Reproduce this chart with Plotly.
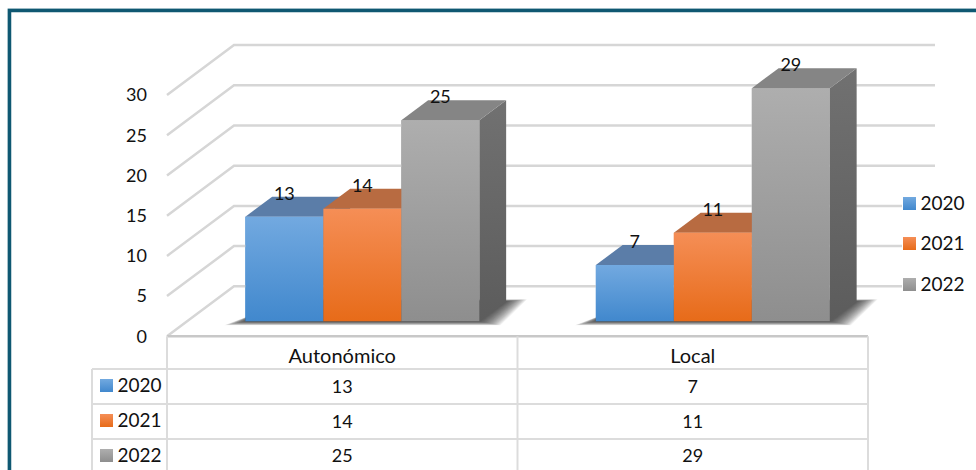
import plotly.graph_objects as go

categories = ["Autonómico", "Local"]
years = ["2020", "2021", "2022"]
values_2020 = [13, 7]
values_2021 = [14, 11]
values_2022 = [25, 29]
series_values = [values_2020, values_2021, values_2022]
y_ticks = [0, 5, 10, 15, 20, 25, 30]

W, H = 976, 470
X0, CAT = 167.0, 350.5      # pixel of category 0, pixels per category
Y0, UNIT = 336.3, 8.04      # pixel of value 0, pixels per value unit
def ux(px): return (px - X0) / CAT
def uy(px): return (Y0 - px) / UNIT

DX, DY = 67 / CAT, 50 / UNIT      # depth of the floor in data units
F0, F1 = 0.30, 0.70               # front and back of the bars, as depth
BAR_W = 78 / CAT

FRONT = [("#72a9e0", "#4188cd"), ("#f58e56", "#e76b19"), ("#aeaeae", "#8e8e8e")]
TOP = ["#5b7da8", "#b86b41", "#858585"]
SIDE = [("#4f7096", "#3f5f85"), ("#a05a30", "#8a4d28"), ("#717171", "#5c5c5c")]
MID = ["#5a98d6", "#ee7c38", "#9e9e9e"]
GRID = "#d6d6d6"
TABLE = "#dcdcdc"
BORDER = "#0f5872"
FONT = "Lato"
INK = "#111111"

fig = go.Figure()

def poly(xs, ys, color=None, grad=None):
    kw = dict(fillcolor=color) if grad is None else dict(
        fillgradient=dict(type="vertical", colorscale=[[0, grad[1]], [1, grad[0]]]))
    fig.add_trace(go.Scatter(x=list(xs) + [xs[0]], y=list(ys) + [ys[0]], mode="lines", fill="toself",
                             line=dict(width=0), hoverinfo="skip", showlegend=False, **kw))

def line(xs, ys, color=GRID, width=2.5):
    fig.add_trace(go.Scatter(x=xs, y=ys, mode="lines", line=dict(color=color, width=width),
                             hoverinfo="skip", showlegend=False))

def label(x, y, text, size=18, pos="middle center"):
    fig.add_trace(go.Scatter(x=x, y=y, mode="text", text=text, textposition=pos,
                             textfont=dict(family=FONT, size=size, color=INK),
                             hoverinfo="skip", showlegend=False))

# Gridlines: oblique on the side wall, horizontal on the back wall
for v in y_ticks:
    line([0, DX, DX + 2], [v, v + DY, v + DY])
line([0, 2], [0, 0], "#c8c8c8", 2.5)

# Bars as library bars, standing on the floor at depth F0
x_shift = F0 * DX
y_shift = F0 * DY
for s, vals in enumerate(series_values):
    fig.add_trace(go.Bar(x=[i + 0.5 + x_shift + (s - 1) * BAR_W for i in range(len(vals))], y=vals,
                         base=y_shift, width=BAR_W, marker=dict(color=MID[s], line=dict(width=0)),
                         name=years[s], showlegend=False, hoverinfo="skip"))

# Floor shadow, soft edges from many stacked translucent polygons
d = (F1 - F0)
LAYERS = 22
for i in range(len(categories)):
    xl = i + 0.5 + x_shift - 1.5 * BAR_W
    xr = i + 0.5 + x_shift + 1.5 * BAR_W
    for k in range(LAYERS):
        g = 1 - k / LAYERS
        gx = 21 * g / CAT
        gy = 4 * g / UNIT
        up = 2 * g / UNIT
        poly([xl - gx, xr + gx, xr + d * DX + gx, xl + d * DX + gx],
             [y_shift - gy, y_shift - gy, y_shift + d * DY + up, y_shift + d * DY + up],
             color="rgba(30,30,30,0.055)")

# 3D faces
for i in range(len(categories)):
    for s, vals in enumerate(series_values):
        xl = i + 0.5 + x_shift + (s - 1.5) * BAR_W
        xr = xl + BAR_W
        b = y_shift
        t = y_shift + vals[i]
        ddx, ddy = d * DX, d * DY
        poly([xr, xr + ddx, xr + ddx, xr], [b, b + ddy, t + ddy, t], grad=SIDE[s])
        poly([xl, xr, xr + ddx, xl + ddx], [t, t, t + ddy, t + ddy], color=TOP[s])
        poly([xl, xr, xr, xl], [b, b, t, t], grad=FRONT[s])
        label([(xl + xr) / 2], [t + 21.5 / UNIT], [str(vals[i])])

# Data table
left = ux(92)
rows_y = [uy(369), uy(404), uy(439)]
for yy in rows_y:
    line([left, 2], [yy, yy], TABLE, 2)
bottom = uy(480)
for xx, top in [(left, rows_y[0]), (0, 0), (1, 0), (2, 0)]:
    line([xx, xx], [top, bottom], TABLE, 2)
row_text_y = [uy(388), uy(423), uy(457.5)]
for s, vals in enumerate(series_values):
    label([0.5, 1.5], [row_text_y[s]] * 2, [str(v) for v in vals])

# Legend background hides the wall gridlines, as in the source
poly([ux(902), ux(976), ux(976), ux(902)], [uy(190), uy(190), uy(298), uy(298)], color="#ffffff")
legend_y = [uy(203.5), uy(243.5), uy(284.5)]
legend_text_y = [uy(205), uy(245), uy(286)]
table_key_y = [uy(385.5), uy(420.5), uy(455.5)]
table_text_y = [uy(387), uy(422), uy(457)]
for s, name in enumerate(years):
    fig.add_trace(go.Scatter(x=[ux(106.5), ux(909.5)], y=[table_key_y[s], legend_y[s]], mode="markers",
                             name=name, showlegend=False, hoverinfo="skip",
                             marker=dict(symbol="square", size=13, color=FRONT[s][0], line=dict(width=0),
                                         gradient=dict(type="vertical", color=FRONT[s][1]))))
    label([ux(117.5), ux(920.5)], [table_text_y[s], legend_text_y[s]], [name, name], size=19, pos="middle right")

# Outer border: only top and left fall inside the frame
line([ux(7.8), ux(7.8), ux(990)], [uy(490), uy(8.6), uy(8.6)], "#c9d9df", 1)
line([ux(9.5), ux(9.5), ux(990)], [uy(490), uy(10.5), uy(10.5)], BORDER, 3.5)

fig.update_layout(
    width=W, height=H, margin=dict(l=0, r=0, t=0, b=0), paper_bgcolor="white", plot_bgcolor="white",
    showlegend=False, barmode="overlay",
    xaxis=dict(range=[ux(0), ux(W)], domain=[0, 1], anchor="free", position=(H - Y0) / H,
               tickmode="array", tickvals=[0.5, 1.5], ticktext=categories, showgrid=False, zeroline=False,
               showline=False, ticks="", ticklabelstandoff=6, ticklabelposition="outside",
               tickfont=dict(family=FONT, size=20, color=INK)),
    yaxis=dict(range=[uy(H), uy(0)], domain=[0, 1], anchor="free", position=X0 / W,
               tickmode="array", tickvals=y_ticks, showgrid=False, zeroline=False, showline=False, ticks="",
               ticklabelstandoff=20, tickfont=dict(family=FONT, size=18, color=INK)),
)
fig.write_html("out.html", config={"displayModeBar": False},
               post_script="document.body.style.margin='0';document.documentElement.style.overflow='hidden';")
